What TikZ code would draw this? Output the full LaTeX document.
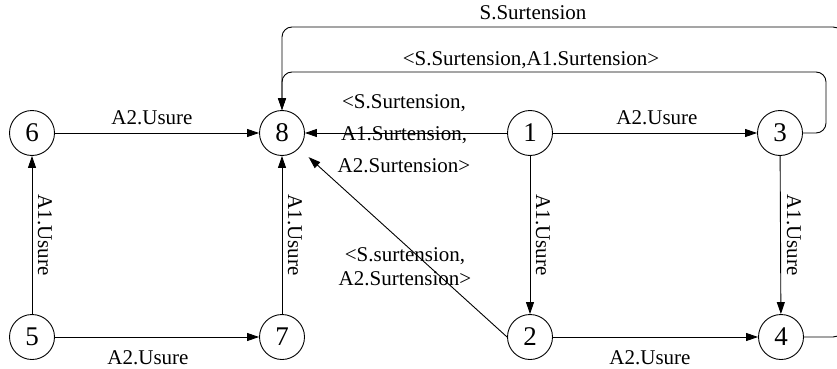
\documentclass[tikz,border=0pt]{standalone}
\usepackage{fontspec}
\setmainfont{Liberation Serif}
\usetikzlibrary{arrows.meta}

\begin{document}
\begin{tikzpicture}[x=1pt,y=-1pt,
  state/.style={circle,draw,line width=0.9pt,minimum size=45pt,inner sep=0pt,
                font=\fontsize{27}{27}\selectfont},
  edge/.style={draw,line width=0.9pt,-{Triangle[length=12pt,width=8pt]}},
  lbl/.style={font=\fontsize{21}{25}\selectfont,inner sep=0pt,align=center},
  loop/.style={edge,rounded corners=10pt}]
\clip (0,0) rectangle (837,369);

% states
\node[state] (6) at (32,133)  {6};
\node[state] (8) at (282,133) {8};
\node[state] (1) at (530,133) {1};
\node[state] (3) at (780,133) {3};
\node[state] (5) at (32,337)  {5};
\node[state] (7) at (282,337) {7};
\node[state] (2) at (530,337) {2};
\node[state] (4) at (781,337) {4};

% horizontal transitions
\draw[edge] (6) -- (8);
\draw[edge] (1) -- (8);
\draw[edge] (1) -- (3);
\draw[edge] (5) -- (7);
\draw[edge] (2) -- (4);

% vertical transitions
\draw[edge] (5) -- (6);
\draw[edge] (7) -- (8);
\draw[edge] (1) -- (2);
\draw[edge] (3) -- (4);

% diagonal transition
\draw[edge,shorten >=13pt] (2.west) -- (8);

% loops over the top
\draw[loop] (3.east) -- (826,133) -- (826,72) -- (282,72) -- (8.north);
\draw[loop] (4.east) -- (843,337) -- (843,27) -- (282,27) -- (8.north);

% labels
\node[lbl] (l68) at (152,118) {A2.Usure};
\node[lbl] (l13) at (657,118) {A2.Usure};
\node[lbl] (l57) at (148,358) {A2.Usure};
\node[lbl] (l24) at (650,358) {A2.Usure};

\node[lbl,rotate=-90] (l56) at (45,235)  {A1.Usure};
\node[lbl,rotate=-90] (l78) at (295,235) {A1.Usure};
\node[lbl,rotate=-90] (l12) at (543,235) {A1.Usure};
\node[lbl,rotate=-90] (l34) at (794,235) {A1.Usure};

\node[lbl,font=\fontsize{21}{32}\selectfont] (l18) at (404,134)
  {<S.Surtension,\\A1.Surtension,\\A2.Surtension>};
\node[lbl,font=\fontsize{21}{24}\selectfont] (l28) at (405,267)
  {<S.surtension,\\A2.Surtension>};

\node[lbl] (l38) at (531,60) {<S.Surtension,A1.Surtension>};
\node[lbl] (l48) at (533,13) {S.Surtension};
\end{tikzpicture}
\end{document}
